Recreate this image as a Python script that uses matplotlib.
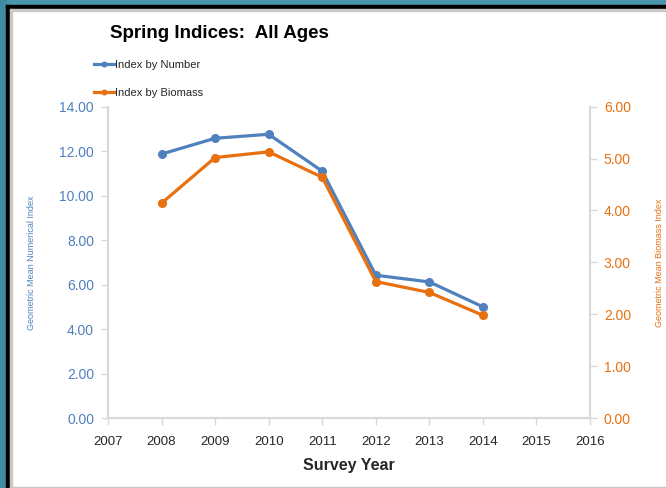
import matplotlib.pyplot as plt
from matplotlib.patches import Rectangle

# --- data ---
years = [2008, 2009, 2010, 2011, 2012, 2013, 2014]
index_number = [11.87, 12.58, 12.76, 11.10, 6.42, 6.12, 5.00]
index_biomass = [4.14, 5.02, 5.13, 4.64, 2.63, 2.42, 1.98]
x_ticks = list(range(2007, 2017))
left_ticks = [0, 2, 4, 6, 8, 10, 12, 14]
right_ticks = [0, 1, 2, 3, 4, 5, 6]

blue = '#4f81bd'
orange = '#e8700f'
grey_axis = '#d9d9d9'
text_dark = '#262626'

plt.rcParams['font.family'] = ['Liberation Sans', 'DejaVu Sans']

W, H = 666, 488
fig = plt.figure(figsize=(W / 100, H / 100), dpi=100)
fig.patch.set_facecolor('white')

# frame around the picture (teal / black / grey)
def px_rect(x0, y0, x1, y1, color):
    fig.patches.append(Rectangle((x0 / W, 1 - y1 / H), (x1 - x0) / W, (y1 - y0) / H,
                                 transform=fig.transFigure, color=color, zorder=-10))

px_rect(0, 0, W, 5, '#4a95ab')
px_rect(0, 0, 6, H, '#3f8da3')
px_rect(6, 5, W, 9, 'black')
px_rect(6, 5, 10, H, 'black')
px_rect(10, 9, W, 10.5, '#c8c8c8')
px_rect(10, 9, 11.5, H, '#c8c8c8')
px_rect(10, 486.5, W, H, '#c8c8c8')

ax = fig.add_axes([108 / W, 1 - 418 / H, (590 - 108) / W, (418 - 106.7) / H])
ax2 = ax.twinx()

ln1, = ax.plot(years, index_number, color=blue, lw=2.3, marker='o', ms=5.5,
               label='Index by Number', zorder=3)
ln2, = ax2.plot(years, index_biomass, color=orange, lw=2.3, marker='o', ms=5.5,
                label='Index by Biomass', zorder=3)

ax.set_xlim(2007, 2016)
ax.set_ylim(0, 14)
ax2.set_ylim(0, 6)
ax.set_xticks(x_ticks)
ax.set_yticks(left_ticks)
ax2.set_yticks(right_ticks)
ax.set_yticklabels([f'{v:.2f}' for v in left_ticks])
ax2.set_yticklabels([f'{v:.2f}' for v in right_ticks])

for a in (ax, ax2):
    a.spines['top'].set_visible(False)
    for s in ('left', 'right', 'bottom'):
        a.spines[s].set_color(grey_axis)
        a.spines[s].set_linewidth(1.5)
    a.patch.set_visible(False)

ax.tick_params(axis='y', colors=grey_axis, labelcolor=blue, labelsize=10, length=5, width=1, pad=5)
ax2.tick_params(axis='y', colors=grey_axis, labelcolor=orange, labelsize=10, length=5, width=1, pad=5)
ax.tick_params(axis='x', colors=grey_axis, labelcolor=text_dark, labelsize=9.5, length=5, width=1, pad=8)

ax.set_ylabel('Geometric Mean Numerical Index', color=blue, fontsize=6.5)
ax.yaxis.set_label_coords(-0.15, 0.5)
ax2.set_ylabel('Geometric Mean Biomass Index', color=orange, fontsize=6.5, rotation=90)
ax2.yaxis.set_label_coords(1.135, 0.5)
ax.set_xlabel('Survey Year', fontsize=11.5, fontweight='bold', color=text_dark, labelpad=7)

fig.text(110 / W, 1 - 33 / H, 'Spring Indices:  All Ages', fontsize=13.5, fontweight='bold',
         color='black', va='center', ha='left')

fig.legend(handles=[ln1, ln2], loc='upper left', bbox_to_anchor=(84 / W, 1 - 50 / H),
           frameon=False, fontsize=8, labelcolor=text_dark, handlelength=1.8,
           handletextpad=0.1, labelspacing=1.6, markerscale=0.6)

fig.savefig('out.png', dpi=100)
